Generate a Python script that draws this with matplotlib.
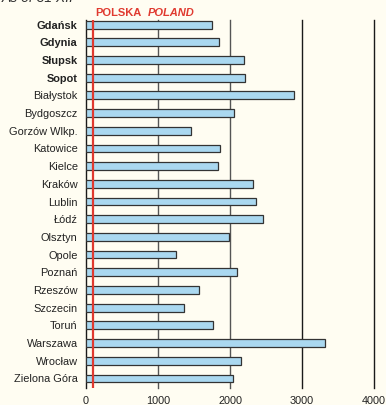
import matplotlib.pyplot as plt

# Data (as of 31 XII)
cities = ["Gdańsk", "Gdynia", "Słupsk", "Sopot", "Białystok", "Bydgoszcz",
          "Gorzów Wlkp.", "Katowice", "Kielce", "Kraków", "Lublin", "Łódź",
          "Olsztyn", "Opole", "Poznań", "Rzeszów", "Szczecin", "Toruń",
          "Warszawa", "Wrocław", "Zielona Góra"]
values = [1754, 1843, 2199, 2213, 2889, 2051, 1454, 1865, 1833, 2324,
          2356, 2454, 1981, 1254, 2102, 1565, 1357, 1768, 3319, 2157, 2037]
bold_cities = ["Gdańsk", "Gdynia", "Słupsk", "Sopot"]
poland_value = 100
x_ticks = [0, 1000, 2000, 3000, 4000]

plt.rcParams['font.family'] = ['Liberation Sans', 'DejaVu Sans']
bg = "#fffdf2"

fig = plt.figure(figsize=(3.86, 4.05), dpi=100, facecolor=bg)
ax = fig.add_axes([0.2228, 0.042, 0.969 - 0.2228, 0.951 - 0.042])
ax.set_facecolor(bg)

y = list(range(len(cities)))

# grid lines
for t in x_ticks:
    col = "#1a1a1a" if t in (0, 3000, 4000) else "#555555"
    ax.axvline(t, color=col, lw=1.0, zorder=1, clip_on=False)

ax.barh(y, values, height=0.44, color="#aad8f0", edgecolor="#333333",
        linewidth=0.9, zorder=2)

ax.axvline(poland_value, color="#e03a30", lw=1.6, zorder=3)

ax.set_xlim(0, 4000)
ax.set_ylim(len(cities) - 1 + 0.54, -0.27)
ax.set_xticks(x_ticks)
ax.set_xticklabels([str(t) for t in x_ticks], fontsize=7.8, color="#222222")
ax.set_yticks(y)
ax.set_yticklabels(cities, fontsize=7.9, color="#222222")
for lab in ax.get_yticklabels():
    if lab.get_text() in bold_cities:
        lab.set_fontweight("bold")
ax.tick_params(length=0, pad=6)
for s in ax.spines.values():
    s.set_visible(False)

# Poland label above the axes
fig.text(95 / 386, 1 - 13 / 405, "POLSKA", color="#e03a30", fontsize=8,
         fontweight="bold", va="center", ha="left")
fig.text(148 / 386, 1 - 13 / 405, "POLAND", color="#e03a30", fontsize=8,
         fontweight="bold", style="italic", va="center", ha="left")

# header, cut off at the top edge like the reference
fig.text(2 / 386, 1 - 2 / 405, "As of 31 XII", color="#333333", fontsize=10,
         style="italic", va="baseline", ha="left")

fig.savefig("out.png", dpi=100, facecolor=bg)
